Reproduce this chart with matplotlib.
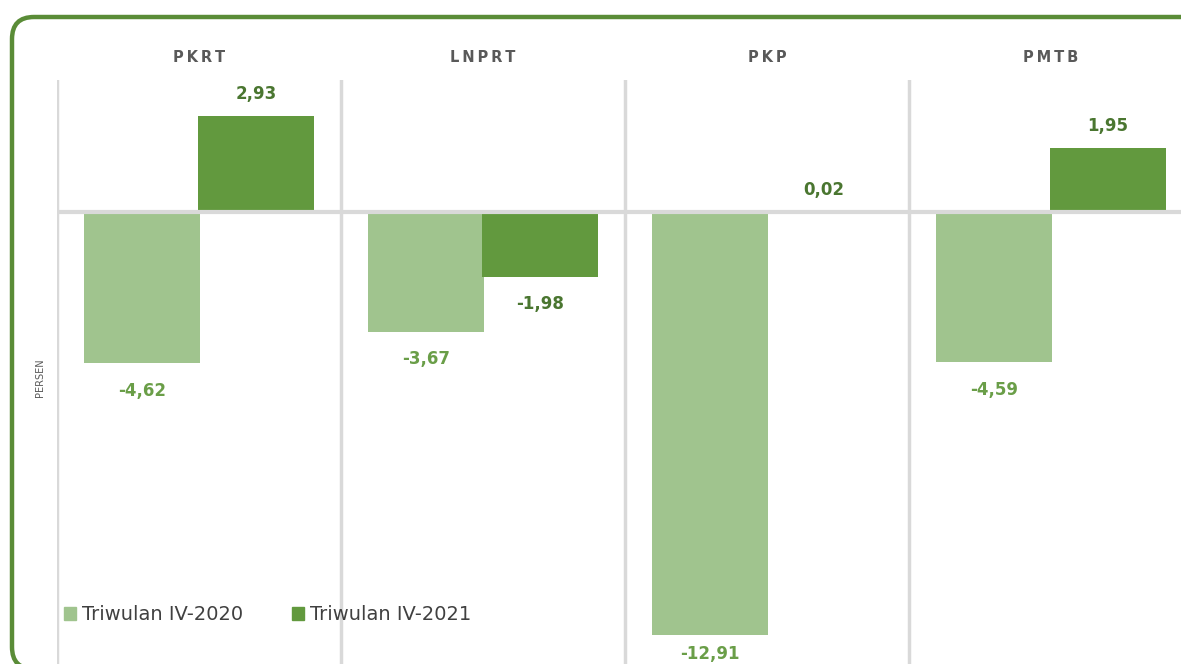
import matplotlib.pyplot as plt
from matplotlib.patches import FancyBboxPatch, Patch

kategori = ["PKRT", "LNPRT", "PKP", "PMTB"]
tw_2020 = [-4.62, -3.67, -12.91, -4.59]
tw_2021 = [2.93, -1.98, 0.02, 1.95]
seri = ["Triwulan IV-2020", "Triwulan IV-2021"]

hijau_muda = "#a0c48e"
hijau_tua = "#62993e"
label_muda = "#6a9e48"
label_tua = "#4a7630"
abu = "#d9d9d9"

def fmt(v):
    return ("%.2f" % v).replace(".", ",")

fig = plt.figure(figsize=(11.81, 6.64), dpi=100)
ax = fig.add_axes([57 / 1181, 0, 1 - 57 / 1181, 1 - 80 / 664])
ax.set_xlim(-0.5, 3.458)
ax.set_ylim(-13.78, 4.02)
ax.axis("off")

x = range(len(kategori))
lebar = 0.41
b1 = ax.bar([i - 0.2 for i in x], tw_2020, lebar, color=hijau_muda, zorder=2)
b2 = ax.bar([i + 0.2 for i in x], tw_2021, lebar, color=hijau_tua, zorder=2)

for i in range(len(kategori) + 1):
    ax.axvline(i - 0.5, color=abu, lw=2.5, zorder=1)
ax.axhline(0, color=abu, lw=3, zorder=3)

ymin = ax.get_ylim()[0]
for bars, vals, c in [(b1, tw_2020, label_muda), (b2, tw_2021, label_tua)]:
    for b, v in zip(bars, vals):
        xc = b.get_x() + b.get_width() / 2
        if v >= 0:
            ax.annotate(fmt(v), (xc, v), xytext=(0, 9), textcoords="offset points",
                        ha="center", va="bottom", fontsize=12, fontweight="bold", color=c)
        else:
            # label terbawah digeser naik agar tidak terpotong
            dy = -13 if v - ymin > 1.5 else -7
            ax.annotate(fmt(v), (xc, v), xytext=(0, dy), textcoords="offset points",
                        ha="center", va="top", fontsize=12, fontweight="bold", color=c)

# judul kategori
for i, k in enumerate(kategori):
    ax.text(i, 1.0 + 22 / 584, "\u2009".join(k), transform=ax.get_xaxis_transform(),
            ha="center", va="center", fontsize=10.5, fontweight="bold", color="#595959")

fig.text(40 / 1181, 1 - 378 / 664, "PERSEN", rotation=90, ha="center", va="center",
         fontsize=7, color="#595959")

handles = [Patch(color=hijau_muda), Patch(color=hijau_tua)]
fig.legend(handles, seri, loc="center left", bbox_to_anchor=(46 / 1181, 1 - 615 / 664),
           ncol=2, frameon=False, fontsize=14, handlelength=0.65, handleheight=0.65,
           handletextpad=0.3, columnspacing=2.5, labelcolor="#404040")

bingkai = FancyBboxPatch((0.12, -0.05), 11.96, 6.52, boxstyle="round,pad=0,rounding_size=0.22",
                         transform=fig.dpi_scale_trans, fill=False, ec="#5a8c37", lw=3.2)
fig.patches.append(bingkai)

fig.savefig("out.png", dpi=100)
